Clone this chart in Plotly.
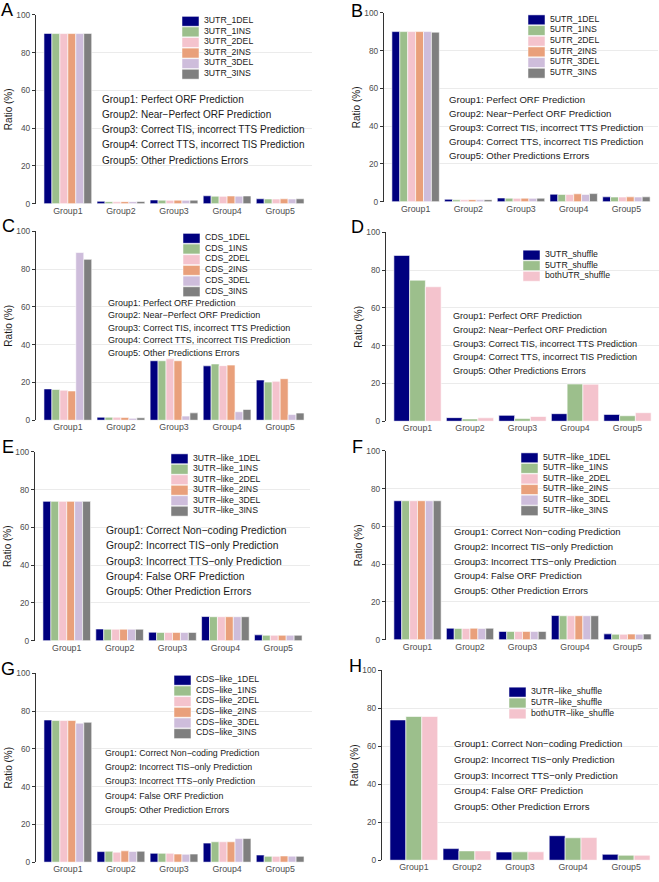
import plotly.graph_objects as go

W, H = 659, 882
FONT = "Liberation Sans, Arial, sans-serif"

groups = ["Group1", "Group2", "Group3", "Group4", "Group5"]
y_ticks = [0, 20, 40, 60, 80, 100]

colors6 = ["#00007F", "#9CBF8C", "#F4C3CD", "#E9A07B", "#CEBDDB", "#7F7F7F"]
colors3 = ["#00007F", "#9CBF8C", "#F4C3CD"]

desc_orf = ["Group1: Perfect ORF Prediction",
            "Group2: Near\u2212Perfect ORF Prediction",
            "Group3: Correct TIS, incorrect TTS Prediction",
            "Group4: Correct TTS, incorrect TIS Prediction",
            "Group5: Other Predictions Errors"]
desc_nc = ["Group1: Correct Non\u2212coding Prediction",
           "Group2: Incorrect TIS\u2212only Prediction",
           "Group3: Incorrect TTS\u2212only Prediction",
           "Group4: False ORF Prediction",
           "Group5: Other Prediction Errors"]

# ---- data (ratio %) ----
A_series = ["3UTR_1DEL", "3UTR_1INS", "3UTR_2DEL", "3UTR_2INS", "3UTR_3DEL", "3UTR_3INS"]
A_values = [[90.2, 1.3, 2.0, 4.2, 2.6],
            [90.1, 1.1, 1.9, 4.0, 2.5],
            [90.1, 1.0, 1.8, 3.9, 2.5],
            [90.1, 1.1, 1.9, 4.1, 2.6],
            [90.1, 1.1, 1.8, 4.0, 2.5],
            [90.2, 1.2, 1.9, 4.1, 2.6]]

B_series = ["5UTR_1DEL", "5UTR_1INS", "5UTR_2DEL", "5UTR_2INS", "5UTR_3DEL", "5UTR_3INS"]
B_values = [[90.1, 1.3, 2.0, 4.0, 2.6],
            [90.1, 1.0, 1.9, 3.9, 2.5],
            [90.1, 1.0, 1.8, 3.9, 2.5],
            [90.1, 1.1, 1.9, 4.2, 2.6],
            [90.1, 1.0, 1.8, 3.9, 2.5],
            [89.8, 1.1, 1.9, 4.3, 2.6]]

C_series = ["CDS_1DEL", "CDS_1INS", "CDS_2DEL", "CDS_2INS", "CDS_3DEL", "CDS_3INS"]
C_values = [[16.6, 1.6, 31.5, 28.8, 21.3],
            [16.3, 1.6, 31.5, 29.8, 20.2],
            [15.9, 1.6, 32.5, 28.9, 20.6],
            [15.5, 1.5, 31.5, 29.2, 22.0],
            [88.8, 1.0, 2.2, 4.5, 3.0],
            [85.2, 1.3, 3.9, 5.7, 3.8]]

D_series = ["3UTR_shuffle", "5UTR_shuffle", "bothUTR_shuffle"]
D_values = [[87.8, 1.9, 3.1, 4.0, 3.6],
            [74.7, 1.2, 1.4, 19.7, 2.9],
            [71.2, 1.8, 2.5, 19.6, 4.5]]

E_series = ["3UTR\u2212like_1DEL", "3UTR\u2212like_1INS", "3UTR\u2212like_2DEL",
            "3UTR\u2212like_2INS", "3UTR\u2212like_3DEL", "3UTR\u2212like_3INS"]
E_values = [[73.8, 6.2, 4.5, 12.8, 3.1],
            [73.8, 6.1, 4.4, 12.7, 2.9],
            [73.8, 6.1, 4.4, 12.7, 2.9],
            [73.8, 6.1, 4.4, 12.7, 2.9],
            [73.8, 6.1, 4.4, 12.7, 2.9],
            [73.8, 6.1, 4.4, 12.7, 2.9]]

F_series = ["5UTR\u2212like_1DEL", "5UTR\u2212like_1INS", "5UTR\u2212like_2DEL",
            "5UTR\u2212like_2INS", "5UTR\u2212like_3DEL", "5UTR\u2212like_3INS"]
F_values = [[73.6, 6.1, 4.4, 12.8, 3.1],
            [73.6, 6.0, 4.4, 12.7, 2.9],
            [73.6, 6.0, 4.4, 12.7, 2.9],
            [73.6, 6.1, 4.4, 12.7, 3.0],
            [73.6, 6.0, 4.4, 12.7, 2.9],
            [73.6, 6.1, 4.4, 12.7, 3.0]]

G_series = ["CDS\u2212like_1DEL", "CDS\u2212like_1INS", "CDS\u2212like_2DEL",
            "CDS\u2212like_2INS", "CDS\u2212like_3DEL", "CDS\u2212like_3INS"]
G_values = [[75.3, 5.6, 4.7, 10.1, 3.8],
            [75.0, 5.8, 4.7, 10.8, 3.1],
            [75.0, 5.3, 4.7, 10.8, 3.1],
            [75.0, 6.0, 4.3, 10.8, 3.3],
            [73.6, 5.7, 4.2, 12.5, 3.2],
            [74.1, 5.8, 4.3, 12.5, 3.1]]

H_series = ["3UTR\u2212like_shuffle", "5UTR\u2212like_shuffle", "bothUTR\u2212like_shuffle"]
H_values = [[73.9, 6.1, 4.3, 12.9, 3.1],
            [75.7, 4.9, 4.4, 11.8, 2.6],
            [75.7, 4.9, 4.4, 11.9, 2.6]]

# ---- layout of panels (pixel geometry) ----
panels = [
    dict(letter="A", series=A_series, values=A_values, desc=desc_orf,
         xdom=(36, 312), ydom=(10, 201), leg=(182, 16.5, 10.7), txt=(100, 98, 15.2, 10.0), let=(7, 9)),
    dict(letter="B", series=B_series, values=B_values, desc=desc_orf,
         xdom=(384, 658), ydom=(8, 199), leg=(528, 15, 10.8), txt=(447, 98, 14.0, 9.6), let=(357, 10)),
    dict(letter="C", series=C_series, values=C_values, desc=desc_orf,
         xdom=(36, 312), ydom=(229, 420), leg=(183, 236, 10.8), txt=(106, 303, 12.7, 9.0), let=(8, 228)),
    dict(letter="D", series=D_series, values=D_values, desc=desc_orf,
         xdom=(386, 659), ydom=(230, 421), leg=(523, 253, 10.7), txt=(451, 317, 13.8, 9.1), let=(358, 229)),
    dict(letter="E", series=E_series, values=E_values, desc=desc_nc,
         xdom=(35, 310), ydom=(452, 643), leg=(171, 459, 10.6), txt=(104, 534, 15.2, 10.3), let=(8, 451)),
    dict(letter="F", series=F_series, values=F_values, desc=desc_nc,
         xdom=(386, 659), ydom=(451, 642), leg=(521, 458, 10.7), txt=(452, 535, 14.8, 9.5), let=(358, 451)),
    dict(letter="G", series=G_series, values=G_values, desc=desc_nc,
         xdom=(36, 312), ydom=(676, 867), leg=(174, 683, 10.8), txt=(103, 759, 14.2, 8.8), let=(8, 676)),
    dict(letter="H", series=H_series, values=H_values, desc=desc_nc,
         xdom=(382, 658), ydom=(673, 865), leg=(509, 695, 11.0), txt=(452, 749, 16.0, 9.6), let=(355, 673)),
]


def px(x):
    return x / W


def py(y):
    return 1 - y / H


fig = go.Figure()
annotations = []
shapes = []

for i, p in enumerate(panels):
    n = i + 1
    xa = "x" if n == 1 else f"x{n}"
    ya = "y" if n == 1 else f"y{n}"
    cols = colors6 if len(p["series"]) == 6 else colors3
    for name, vals, c in zip(p["series"], p["values"], cols):
        fig.add_trace(go.Bar(x=groups, y=vals, name=name, xaxis=xa, yaxis=ya,
                             marker=dict(color=c, line=dict(color="white", width=0.6)),
                             offsetgroup=name, showlegend=False))
    xk = "xaxis" if n == 1 else f"xaxis{n}"
    yk = "yaxis" if n == 1 else f"yaxis{n}"
    fig.layout[xk] = dict(domain=[px(p["xdom"][0]), px(p["xdom"][1])], anchor=ya,
                          type="category", range=[-0.6, 4.6], showgrid=False, zeroline=False,
                          showline=False, ticks="",
                          tickfont=dict(size=8.8, color="#4d4d4d", family=FONT))
    fig.layout[yk] = dict(domain=[py(p["ydom"][1]), py(p["ydom"][0])], anchor=xa,
                          range=[0, 100], tickvals=y_ticks, showgrid=True, gridcolor="#ebebeb",
                          gridwidth=0.8, zeroline=False, showline=True, linecolor="#333333",
                          linewidth=1.3, ticks="outside", ticklen=3, tickcolor="#333333",
                          tickwidth=1, tickfont=dict(size=8.3, color="#4d4d4d", family=FONT),
                          title=dict(text="Ratio (%)", standoff=1,
                                     font=dict(size=10, color="#1a1a1a", family=FONT)))
    # legend (drawn manually)
    lx, ly0, ldy = p["leg"]
    for k, (name, c) in enumerate(zip(p["series"], cols)):
        cy = ly0 + k * ldy
        shapes.append(dict(type="rect", xref="paper", yref="paper",
                           x0=px(lx), x1=px(lx + 17), y0=py(cy + 5), y1=py(cy - 5),
                           fillcolor=c, line=dict(color="white", width=0.5), layer="above"))
        annotations.append(dict(x=px(lx + 20), y=py(cy - 1.2), xref="paper", yref="paper",
                                text=name, showarrow=False, xanchor="left", yanchor="middle",
                                font=dict(size=8.7, color="#1a1a1a", family=FONT)))
    # description text
    tx, ty0, tdy, tfs = p["txt"]
    for k, line in enumerate(p["desc"]):
        annotations.append(dict(x=px(tx), y=py(ty0 - 2 + k * tdy), xref="paper", yref="paper",
                                text=line, showarrow=False, xanchor="left", yanchor="middle",
                                font=dict(size=tfs, color="#1a1a1a", family=FONT)))
    # panel letter
    lx2, ly2 = p["let"]
    annotations.append(dict(x=px(lx2), y=py(ly2 - 4), xref="paper", yref="paper",
                            text=p["letter"], showarrow=False, xanchor="center", yanchor="middle",
                            font=dict(size=18, color="#000000", family=FONT)))

fig.update_layout(width=W, height=H, margin=dict(l=0, r=0, t=0, b=0),
                  paper_bgcolor="white", plot_bgcolor="white",
                  barmode="group", bargap=0.1, bargroupgap=0,
                  showlegend=False, annotations=annotations, shapes=shapes,
                  font=dict(family=FONT))

fig.write_html("out.html")
